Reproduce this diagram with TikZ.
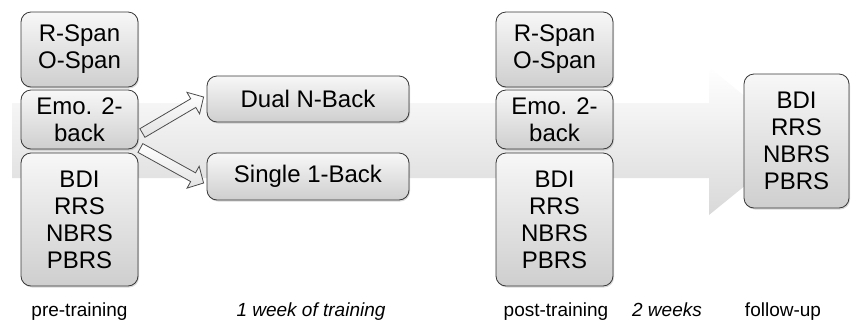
\documentclass[tikz,border=0pt]{standalone}
\usepackage{fontspec}
\setmainfont{Liberation Sans}
\usetikzlibrary{calc,shadows}
\begin{document}
\begin{tikzpicture}[x=1pt,y=-1pt,
  box/.style={draw=black!78, line width=0.8pt, rounded corners=10pt,
    top color=gray!6, bottom color=gray!38, align=center, inner sep=0pt,
    font=\fontsize{24}{27}\selectfont,
    drop shadow={opacity=0.3, shadow xshift=1pt, shadow yshift=-1.5pt}},
  colbox/.style={box, minimum width=117pt},
  lbl/.style={font=\fontsize{19}{22}\selectfont, anchor=base, inner sep=0pt},
  bigarrow/.style={top color=white, bottom color=gray!30},
  smallarrow/.style={draw=black!70, line width=0.8pt, top color=white, bottom color=gray!22, line join=miter}
]
\useasboundingbox (0,0) rectangle (852,325);

% big background arrow
\path[bigarrow] (12,103) -- (709,103) -- (709,67) -- (800,141) -- (709,215)
  -- (709,178) -- (12,178) -- cycle;

% pre-training
\node[colbox, minimum height=75pt]  (preA) at (79.5,49.5)  {R-Span\\O-Span};
\node[colbox, minimum height=59pt]  (preB) at (79.5,119.5) {Emo. 2-\\back};
\node[colbox, minimum height=133pt] (preC) at (79.5,219.5) {BDI\\RRS\\NBRS\\PBRS};

% training
\node[box, minimum width=202pt, minimum height=46pt] (dual)   at (308,99)    {Dual N-Back};
\node[box, minimum width=202pt, minimum height=47pt] (single) at (308,176.5) {Single 1-Back};

% post-training
\node[colbox, minimum height=75pt]  (postA) at (554.5,49.5)  {R-Span\\O-Span};
\node[colbox, minimum height=59pt]  (postB) at (554.5,119.5) {Emo. 2-\\back};
\node[colbox, minimum height=133pt] (postC) at (554.5,219.5) {BDI\\RRS\\NBRS\\PBRS};

% follow-up
\node[box, minimum width=105pt, minimum height=134pt] (fu) at (796.5,141) {BDI\\RRS\\NBRS\\PBRS};

% block arrows
\coordinate (a1s) at ($(preB.east)+(4,13.5)$);
\coordinate (a1e) at ($(dual.west)+(-3,-2)$);
\coordinate (a2s) at ($(preB.east)+(2,28.5)$);
\coordinate (a2e) at ($(single.west)+(-3,6.5)$);
\foreach \s/\e in {a1s/a1e, a2s/a2e}{
  \coordinate (h) at ($(\e)!12pt!(\s)$);
  \path[smallarrow]
    ($(\s)!5pt!90:(\e)$) -- ($(h)!5pt!90:(\e)$) -- ($(h)!12.5pt!90:(\e)$)
    -- (\e) -- ($(h)!12.5pt!-90:(\e)$) -- ($(h)!5pt!-90:(\e)$)
    -- ($(\s)!5pt!-90:(\e)$) -- cycle;
}

% labels
\node[lbl] (l1) at (79.5,316) {pre-training};
\node[lbl] (l2) at (311,316) {\itshape 1 week of training};
\node[lbl] (l3) at (556,316) {post-training};
\node[lbl] (l4) at (667,316) {\itshape 2 weeks};
\node[lbl] (l5) at (783,316) {follow-up};
\end{tikzpicture}
\end{document}
